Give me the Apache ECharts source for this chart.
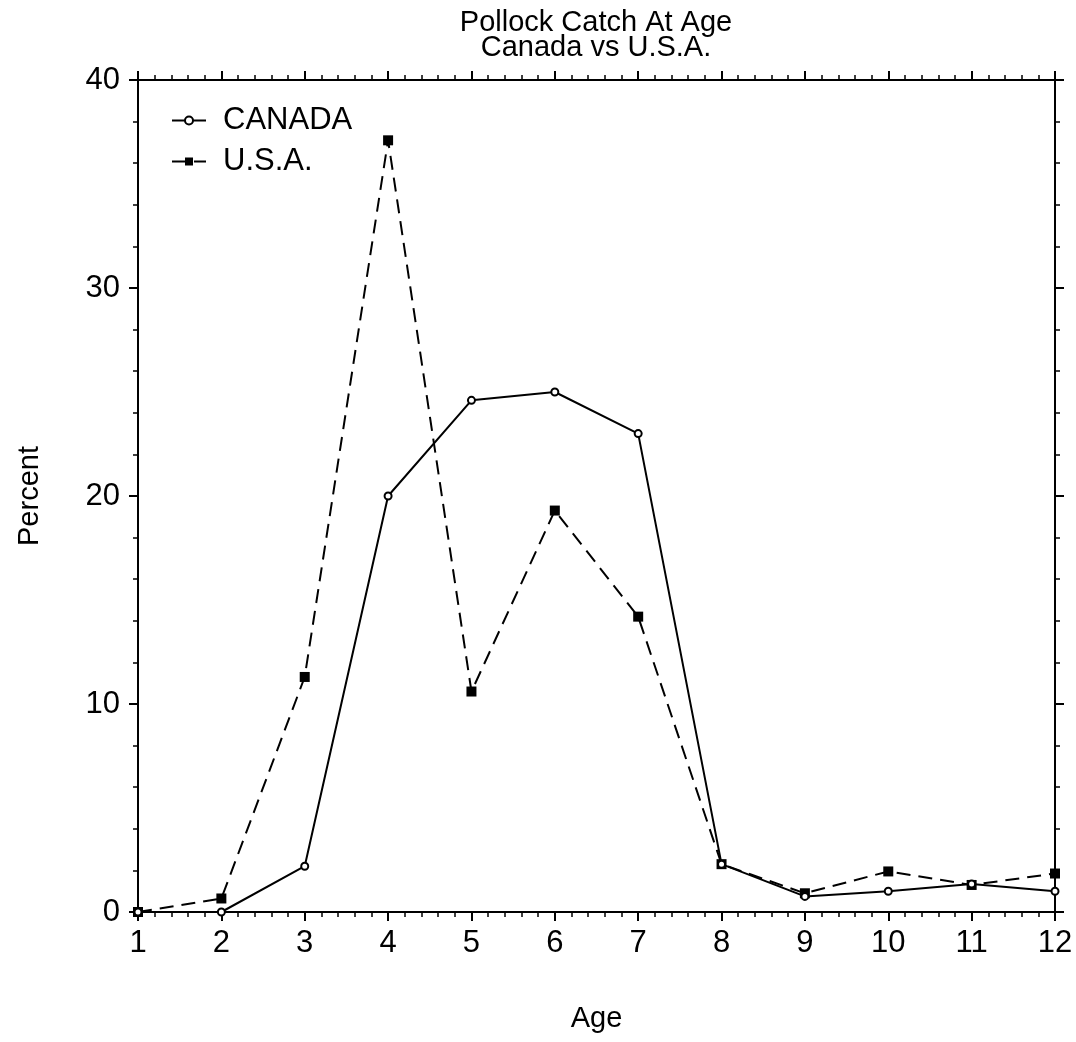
<!DOCTYPE html>
<html>
<head>
<meta charset="utf-8">
<script src="https://cdn.jsdelivr.net/npm/echarts@6/dist/echarts.min.js"></script>
<style>
  html, body { margin: 0; padding: 0; background: #fff; }
  #chart { width: 1076px; height: 1042px; }
</style>
</head>
<body>
<div id="chart"></div>
<script>
// ages on x axis
var ages = [1, 2, 3, 4, 5, 6, 7, 8, 9, 10, 11, 12];
// percent of catch
var canada = [0, 0, 2.2, 20.0, 24.6, 25.0, 23.0, 2.3, 0.75, 1.0, 1.35, 1.0];
var usa = [0, 0.65, 11.3, 37.1, 10.6, 19.3, 14.2, 2.3, 0.9, 1.95, 1.3, 1.85];
var yTicks = [0, 10, 20, 30, 40];

var font = 'Liberation Sans, Arial, Helvetica, sans-serif';

function pairs(vals) {
    return ages.map(function (a, i) { return [a, vals[i]]; });
}

var chart = echarts.init(document.getElementById('chart'));

var baseX = {
    type: 'value',
    min: ages[0],
    max: ages[ages.length - 1],
    interval: 1,
    axisLine: { show: true, onZero: false, lineStyle: { color: '#000', width: 2 } },
    axisTick: { show: true, length: 9, lineStyle: { color: '#000', width: 2 } },
    minorTick: { show: true, splitNumber: 5, length: 5, lineStyle: { color: '#000', width: 1.5 } },
    splitLine: { show: false }
};
var baseY = {
    type: 'value',
    min: yTicks[0],
    max: yTicks[yTicks.length - 1],
    interval: 10,
    axisLine: { show: true, onZero: false, lineStyle: { color: '#000', width: 2 } },
    axisTick: { show: true, length: 9, lineStyle: { color: '#000', width: 2 } },
    minorTick: { show: true, splitNumber: 5, length: 5, lineStyle: { color: '#000', width: 1.5 } },
    splitLine: { show: false }
};

var option = {
    animation: false,
    backgroundColor: '#fff',
    title: {
        text: 'Pollock Catch At Age\nCanada vs U.S.A.',
        left: 591,
        top: 5,
        textAlign: 'center',
        textStyle: { fontFamily: font, fontSize: 29, fontWeight: 'normal', color: '#000', lineHeight: 25 }
    },
    legend: {
        left: 166,
        top: 100,
        orient: 'vertical',
        itemWidth: 34,
        itemHeight: 10,
        itemGap: 10,
        textStyle: { fontFamily: font, fontSize: 31, color: '#000', padding: [0, 0, 0, 12] },
        data: ['CANADA', 'U.S.A.']
    },
    grid: { left: 138, right: 21, top: 80, bottom: 130 },
    xAxis: [
        Object.assign({}, baseX, {
            position: 'bottom',
            name: 'Age',
            nameLocation: 'middle',
            nameGap: 92,
            nameTextStyle: { fontFamily: font, fontSize: 29, color: '#000' },
            axisLabel: { fontFamily: font, fontSize: 31, color: '#000', margin: 16 }
        }),
        Object.assign({}, baseX, { position: 'top', axisLabel: { show: false } })
    ],
    yAxis: [
        Object.assign({}, baseY, {
            position: 'left',
            name: 'Percent',
            nameLocation: 'middle',
            nameGap: 94,
            nameTextStyle: { fontFamily: font, fontSize: 29, color: '#000' },
            axisLabel: { fontFamily: font, fontSize: 31, color: '#000', margin: 18 }
        }),
        Object.assign({}, baseY, { position: 'right', axisLabel: { show: false } })
    ],
    series: [
        {
            name: 'CANADA',
            type: 'line',
            xAxisIndex: 0,
            yAxisIndex: 0,
            data: pairs(canada),
            symbol: 'emptyCircle',
            symbolSize: 7,
            itemStyle: { color: '#000', borderWidth: 2 },
            lineStyle: { color: '#000', width: 2 },
            z: 3
        },
        {
            name: 'U.S.A.',
            type: 'line',
            xAxisIndex: 0,
            yAxisIndex: 0,
            data: pairs(usa),
            symbol: 'rect',
            symbolSize: 10,
            itemStyle: { color: '#000' },
            lineStyle: { color: '#000', width: 2, type: [14, 8] },
            z: 2
        }
    ]
};

chart.setOption(option);
</script>
</body>
</html>
